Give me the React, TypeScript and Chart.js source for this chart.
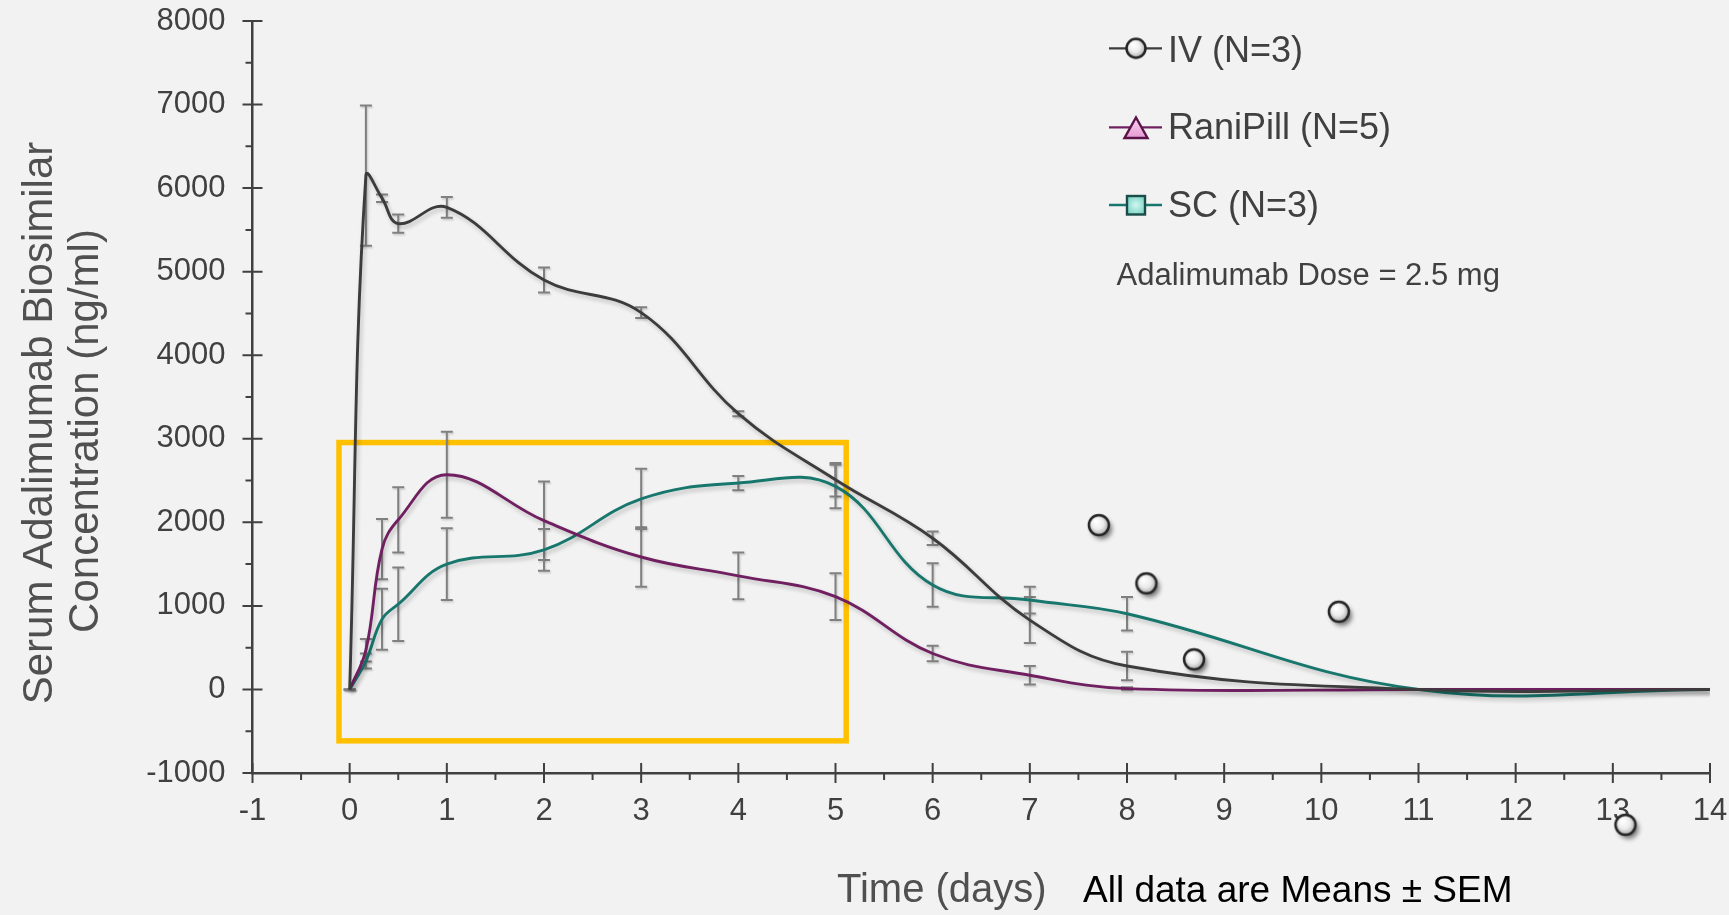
import React, { useEffect, useRef } from "react";
import { Chart, registerables } from "chart.js";

Chart.register(...registerables);

// ---------- data ----------
const timesDays = [0, 0.167, 0.333, 0.5, 1, 2, 3, 4, 5, 6, 7, 8, 11, 14];
const ivMean = [0, 6150, 5880, 5575, 5770, 4900, 4510, 3300, 2510, 1810, 830, 280, 0, 0];
const ivSem = [0, 840, 45, 110, 125, 150, 65, 30, 200, 80, 275, 170, null, null];
const raniMean = [0, 470, 1680, 2030, 2570, 2020, 1585, 1360, 1110, 430, 170, 10, 0, 0];
const raniSem = [0, 135, 360, 390, 515, 470, 355, 280, 280, 94, 110, 15, null, null];
const scMean = [0, 340, 840, 1020, 1500, 1670, 2280, 2470, 2430, 1250, 1070, 906, 0, 0];
const scSem = [0, 90, 365, 440, 430, 250, 360, 86, 260, 260, 160, 200, null, null];

// stray IV circle markers
const ivStrayX = [7.71, 8.2, 8.69, 10.18, 13.13];
const ivStrayY = [1967, 1270, 360, 930, -1620];

const xTickValues = [-1, 0, 1, 2, 3, 4, 5, 6, 7, 8, 9, 10, 11, 12, 13, 14];
const xTickLabels = ["-1", "0", "1", "2", "3", "4", "5", "6", "7", "8", "9", "10", "11", "12", "13", "14"];
const xMinorTicks = [-0.5, 0.5, 1.5, 2.5, 3.5, 4.5, 5.5, 6.5, 7.5, 8.5, 9.5, 10.5, 11.5, 12.5, 13.5];
const yTickValues = [-1000, 0, 1000, 2000, 3000, 4000, 5000, 6000, 7000, 8000];
const yTickLabels = ["-1000", "0", "1000", "2000", "3000", "4000", "5000", "6000", "7000", "8000"];
const yMinorTicks = [-500, 500, 1500, 2500, 3500, 4500, 5500, 6500, 7500];

// highlight box (in data units)
const boxX = [-0.11, 5.11];
const boxY = [-615, 2955];

const seriesNames = ["IV (N=3)", "RaniPill (N=5)", "SC (N=3)"];
const doseText = "Adalimumab Dose = 2.5 mg";
const yTitleLines = ["Serum Adalimumab Biosimilar", "Concentration (ng/ml)"];
const xTitle = "Time (days)";
const noteText = "All data are Means \u00B1 SEM";

const FONT = "'Liberation Sans', Arial, sans-serif";
const IV_COLOR = "#3c3c3c";
const RANI_COLOR = "#702060";
const SC_COLOR = "#18776d";
const AXIS_COLOR = "#404040";

function makeCircleMarker(shadow: boolean, r: number): HTMLCanvasElement {
  const c = document.createElement("canvas");
  c.width = 44;
  c.height = 44;
  const g = c.getContext("2d")!;
  const cx = 22, cy = 22;
  if (shadow) {
    g.save();
    g.shadowColor = "rgba(0,0,0,0.55)";
    g.shadowBlur = 5;
    g.shadowOffsetX = 3;
    g.shadowOffsetY = 4;
    g.beginPath();
    g.arc(cx, cy, r, 0, Math.PI * 2);
    g.fillStyle = "#cccccc";
    g.fill();
    g.restore();
  }
  const grad = g.createRadialGradient(cx - 3, cy - 4, 1, cx, cy, r);
  grad.addColorStop(0, "#ffffff");
  grad.addColorStop(0.55, "#ececec");
  grad.addColorStop(1, "#a9a9a9");
  g.beginPath();
  g.arc(cx, cy, r, 0, Math.PI * 2);
  g.fillStyle = grad;
  g.fill();
  g.lineWidth = 2.5;
  g.strokeStyle = "#262626";
  g.stroke();
  return c;
}

export default function App() {
  const canvasRef = useRef<HTMLCanvasElement | null>(null);

  useEffect(() => {
    document.body.style.margin = "0";
    document.body.style.background = "#f2f2f2";
    const canvas = canvasRef.current;
    if (!canvas) return;

    const circleShadow = makeCircleMarker(true, 10);
    const circlePlain = makeCircleMarker(false, 9.5);

    const toXY = (ys: number[]) => timesDays.map((t, i) => ({ x: t, y: ys[i] }));
    const sems = [ivSem, raniSem, scSem];
    const means = [ivMean, raniMean, scMean];

    const customPlugin = {
      id: "custom",
      beforeDatasetsDraw(chart: any) {
        const { ctx } = chart;
        const xs = chart.scales.x;
        const ys = chart.scales.y;
        // yellow highlight box
        ctx.save();
        ctx.strokeStyle = "#FFC000";
        ctx.lineWidth = 5.5;
        const x0 = xs.getPixelForValue(boxX[0]);
        const x1 = xs.getPixelForValue(boxX[1]);
        const y0 = ys.getPixelForValue(boxY[1]);
        const y1 = ys.getPixelForValue(boxY[0]);
        ctx.strokeRect(x0, y0, x1 - x0, y1 - y0);
        ctx.restore();
        // error bars
        ctx.save();
        ctx.strokeStyle = "#808080";
        ctx.lineWidth = 2;
        ctx.shadowColor = "rgba(0,0,0,0.18)";
        ctx.shadowBlur = 2;
        ctx.shadowOffsetX = 1;
        ctx.shadowOffsetY = 1.5;
        for (let s = 0; s < 3; s++) {
          for (let i = 0; i < timesDays.length; i++) {
            const e = sems[s][i];
            if (e === null || e === undefined) continue;
            const px = xs.getPixelForValue(timesDays[i]);
            const pt = ys.getPixelForValue(means[s][i] + e);
            const pb = ys.getPixelForValue(means[s][i] - e);
            const cw = 6;
            ctx.beginPath();
            ctx.moveTo(px, pt);
            ctx.lineTo(px, pb);
            ctx.moveTo(px - cw, pt);
            ctx.lineTo(px + cw, pt);
            ctx.moveTo(px - cw, pb);
            ctx.lineTo(px + cw, pb);
            ctx.stroke();
          }
        }
        ctx.restore();
      },
      beforeDatasetDraw(chart: any, args: any) {
        if (args.index > 0) {
          const ctx = chart.ctx;
          ctx.save();
          ctx.shadowColor = "rgba(0,0,0,0.22)";
          ctx.shadowBlur = 4;
          ctx.shadowOffsetX = 2;
          ctx.shadowOffsetY = 3;
        }
      },
      afterDatasetDraw(chart: any, args: any) {
        if (args.index > 0) {
          chart.ctx.restore();
        }
      },
      afterDatasetsDraw(chart: any) {
        // Chart.js skips points outside the chart area; draw those stray markers here
        const meta = chart.getDatasetMeta(0);
        const area = chart.chartArea;
        meta.data.forEach((el: any) => {
          const inside = el.x >= area.left && el.x <= area.right && el.y >= area.top && el.y <= area.bottom;
          if (!inside) {
            chart.ctx.drawImage(circleShadow, el.x - circleShadow.width / 2, el.y - circleShadow.height / 2);
          }
        });
      },
      afterDraw(chart: any) {
        const { ctx } = chart;
        const xs = chart.scales.x;
        const ys = chart.scales.y;
        const ax = chart.chartArea.left;
        const ay = chart.chartArea.bottom;
        ctx.save();
        // axis tick marks
        ctx.strokeStyle = AXIS_COLOR;
        ctx.lineWidth = 2;
        ctx.beginPath();
        yTickValues.forEach((v) => {
          const p = ys.getPixelForValue(v);
          ctx.moveTo(ax - 10, p);
          ctx.lineTo(ax + 10, p);
        });
        yMinorTicks.forEach((v) => {
          const p = ys.getPixelForValue(v);
          ctx.moveTo(ax - 7, p);
          ctx.lineTo(ax, p);
        });
        xTickValues.forEach((v) => {
          const p = xs.getPixelForValue(v);
          ctx.moveTo(p, ay - 10);
          ctx.lineTo(p, ay + 10);
        });
        xMinorTicks.forEach((v) => {
          const p = xs.getPixelForValue(v);
          ctx.moveTo(p, ay);
          ctx.lineTo(p, ay + 7);
        });
        ctx.stroke();

        // y title
        ctx.fillStyle = "#505050";
        ctx.font = `42px ${FONT}`;
        ctx.textAlign = "center";
        ctx.textBaseline = "alphabetic";
        ctx.save();
        ctx.translate(51.5, 423);
        ctx.rotate(-Math.PI / 2);
        ctx.fillText(yTitleLines[0], 0, 0);
        ctx.restore();
        ctx.save();
        ctx.translate(98, 431);
        ctx.rotate(-Math.PI / 2);
        ctx.fillText(yTitleLines[1], 0, 0);
        ctx.restore();

        // x title and note
        ctx.textAlign = "left";
        ctx.font = `40px ${FONT}`;
        ctx.fillStyle = "#505050";
        ctx.fillText(xTitle, 837, 901.5);
        ctx.font = `37px ${FONT}`;
        ctx.fillStyle = "#000000";
        ctx.fillText(noteText, 1083, 901.5);

        // legend
        const lx0 = 1109, lx1 = 1162, mx = 1136;
        const rows = [48.3, 127.3, 205];
        const colors = [IV_COLOR, RANI_COLOR, SC_COLOR];
        rows.forEach((ry, i) => {
          ctx.strokeStyle = colors[i];
          ctx.lineWidth = 2.3;
          ctx.beginPath();
          ctx.moveTo(lx0, ry);
          ctx.lineTo(lx1, ry);
          ctx.stroke();
        });
        // IV circle
        ctx.drawImage(circlePlain, mx - 22, rows[0] - 22);
        // Rani triangle
        {
          const g = ctx.createLinearGradient(mx, 117, mx, 138);
          g.addColorStop(0, "#f9d4f1");
          g.addColorStop(1, "#e69ad3");
          ctx.beginPath();
          ctx.moveTo(mx, 117.5);
          ctx.lineTo(mx + 11.5, 138);
          ctx.lineTo(mx - 11.5, 138);
          ctx.closePath();
          ctx.fillStyle = g;
          ctx.fill();
          ctx.strokeStyle = "#5a1249";
          ctx.lineWidth = 2.4;
          ctx.stroke();
        }
        // SC square
        {
          const g = ctx.createRadialGradient(mx, 205, 1, mx, 205, 12);
          g.addColorStop(0, "#c9f3ec");
          g.addColorStop(1, "#6fd0c2");
          ctx.fillStyle = g;
          ctx.fillRect(mx - 9, 196, 18, 18.5);
          ctx.strokeStyle = "#1b4c47";
          ctx.lineWidth = 2.4;
          ctx.strokeRect(mx - 9, 196, 18, 18.5);
        }
        ctx.fillStyle = AXIS_COLOR;
        ctx.font = `36px ${FONT}`;
        ctx.textAlign = "left";
        ctx.fillText(seriesNames[0], 1168, 61.7);
        ctx.fillText(seriesNames[1], 1168, 139.3);
        ctx.fillText(seriesNames[2], 1168, 216.7);
        ctx.font = `31px ${FONT}`;
        ctx.fillText(doseText, 1116.5, 285);
        ctx.restore();
      },
    };

    const chart = new Chart(canvas, {
      type: "line",
      data: {
        datasets: [
          {
            label: "IV individual",
            type: "scatter",
            data: ivStrayX.map((x, i) => ({ x, y: ivStrayY[i] })),
            showLine: false,
            pointStyle: circleShadow as any,
            pointRadius: 10,
            clip: false as any,
          } as any,
          {
            label: seriesNames[0],
            data: toXY(ivMean),
            borderColor: IV_COLOR,
            borderWidth: 2.9,
            pointRadius: 0,
            tension: 0.4,
            fill: false,
          },
          {
            label: seriesNames[1],
            data: toXY(raniMean),
            borderColor: RANI_COLOR,
            borderWidth: 2.9,
            pointRadius: 0,
            tension: 0.4,
            fill: false,
          },
          {
            label: seriesNames[2],
            data: toXY(scMean),
            borderColor: SC_COLOR,
            borderWidth: 2.9,
            pointRadius: 0,
            tension: 0.4,
            fill: false,
          },
        ],
      },
      options: {
        animation: false,
        responsive: false,
        devicePixelRatio: 1,
        layout: { padding: { left: 0, top: 21, right: 19, bottom: 0 } },
        plugins: {
          legend: { display: false },
          tooltip: { enabled: false },
        },
        scales: {
          x: {
            type: "linear",
            min: -1,
            max: 14,
            afterFit: (s: any) => {
              s.height = 142;
              s.paddingLeft = 0;
              s.paddingRight = 0;
              s.paddingTop = 0;
              s.paddingBottom = 0;
            },
            afterBuildTicks: (s: any) => {
              s.ticks = xTickValues.map((v) => ({ value: v }));
            },
            ticks: {
              autoSkip: false,
              maxRotation: 0,
              padding: 19.5,
              color: AXIS_COLOR,
              font: { family: FONT, size: 31 },
              callback: (v: any) => {
                const i = xTickValues.indexOf(Number(v));
                return i >= 0 ? xTickLabels[i] : "";
              },
            },
            grid: { display: false, drawTicks: false },
            border: { display: true, color: AXIS_COLOR, width: 2.5 },
          },
          y: {
            type: "linear",
            min: -1000,
            max: 8000,
            afterFit: (s: any) => {
              s.width = 252.5;
              s.paddingLeft = 0;
              s.paddingRight = 0;
              s.paddingTop = 0;
              s.paddingBottom = 0;
            },
            afterBuildTicks: (s: any) => {
              s.ticks = yTickValues.map((v) => ({ value: v }));
            },
            ticks: {
              autoSkip: false,
              padding: 27,
              color: AXIS_COLOR,
              font: { family: FONT, size: 31 },
              callback: (v: any) => {
                const i = yTickValues.indexOf(Number(v));
                return i >= 0 ? yTickLabels[i] : "";
              },
            },
            grid: { display: false, drawTicks: false },
            border: { display: true, color: AXIS_COLOR, width: 2.5 },
          },
        },
      },
      plugins: [customPlugin],
    } as any);

    return () => {
      chart.destroy();
    };
  }, []);

  return (
    <div style={{ width: 1729, height: 915, background: "#f2f2f2" }}>
      <canvas ref={canvasRef} width={1729} height={915} style={{ display: "block" }} />
    </div>
  );
}
